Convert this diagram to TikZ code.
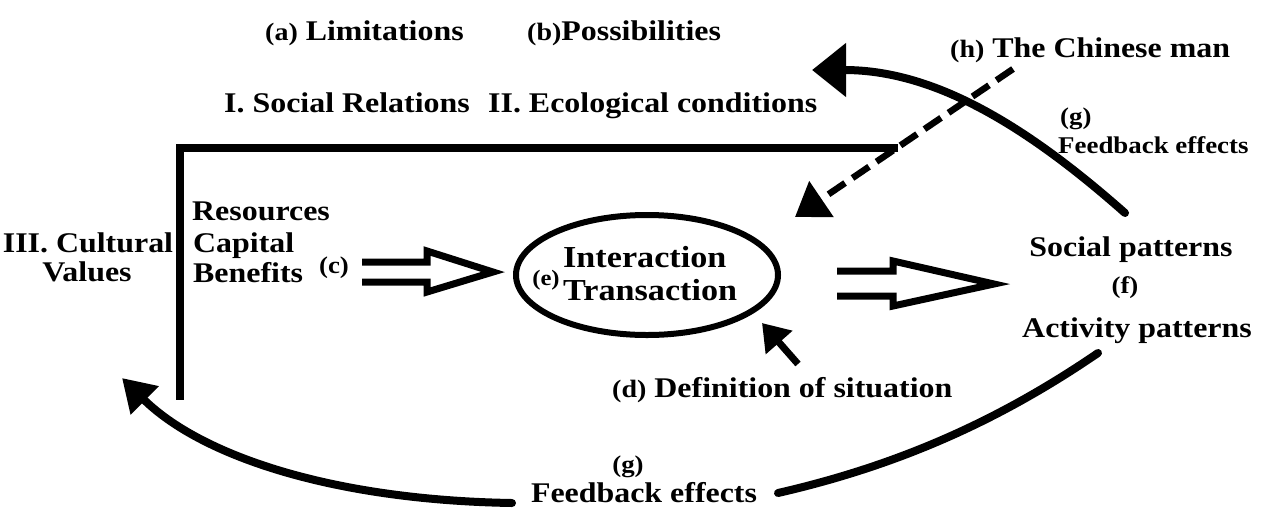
\documentclass[tikz,border=0pt]{standalone}
\usepackage{fontspec}
\setmainfont{Liberation Serif}[FakeStretch=1.12]
\usetikzlibrary{arrows.meta,shapes.geometric}
\newcommand\lb[1]{{\fontsize{25}{27}\selectfont #1}}
\tikzset{
  txt/.style={inner sep=0pt, font=\bfseries\fontsize{28.5}{30}\selectfont},
  bigtxt/.style={inner sep=0pt, font=\bfseries\fontsize{30.5}{32}\selectfont},
  smtxt/.style={inner sep=0pt, font=\bfseries\fontsize{24}{26}\selectfont},
  labtxt/.style={inner sep=0pt, font=\bfseries\fontsize{24}{26}\selectfont},
  tinylab/.style={inner sep=0pt, font=\bfseries\fontsize{22}{24}\selectfont},
  frameline/.style={line width=7.5pt, line join=miter},
  dblarrow/.style={line width=7pt, line join=miter},
  curve/.style={line width=8pt, line cap=round},
  bighead/.style={-{Triangle[length=34pt,width=52pt]}},
  midhead/.style={-{Triangle[length=32pt,width=42pt]}},
  dhead/.style={-{Triangle[length=26pt,width=34pt]}},
  dashline/.style={line width=6.5pt, dash pattern=on 20pt off 9pt}
}
\begin{document}
\begin{tikzpicture}[x=1pt,y=-1pt]
\useasboundingbox[fill=white] (0,0) rectangle (1266,507);

% texts
\node[txt,anchor=base west] (lim) at (265,40) {\lb{(a)} Limitations};
\node[txt,anchor=base west] (pos) at (527,40) {\lb{(b)}Possibilities};
\node[txt,anchor=base west] (chin) at (950,57) {\lb{(h)} The Chinese man};
\node[txt,anchor=base west] (soc) at (224,112) {I. Social Relations};
\node[txt,anchor=base west] (eco) at (488,112) {II. Ecological conditions};
\node[labtxt,anchor=base west] (g1) at (1060,124) {(g)};
\node[smtxt,anchor=base west] (fb1) at (1058,153) {Feedback effects};
\node[txt,anchor=base] (cult) at (88,252) {III. Cultural};
\node[txt,anchor=base] (val) at (87,281) {Values};
\node[txt,anchor=base west] (res) at (192,220) {Resources};
\node[txt,anchor=base west] (cap) at (193,252) {Capital};
\node[txt,anchor=base west] (ben) at (193,282) {Benefits};
\node[labtxt,anchor=base] (c) at (334,273) {(c)};
\node[draw,ellipse,line width=6pt,minimum width=262pt,minimum height=120pt,inner sep=0pt] (ell) at (647,275) {};
\node[tinylab,anchor=base] (e) at (546,285) {(e)};
\node[bigtxt,anchor=base west] (int) at (563,267) {Interaction};
\node[bigtxt,anchor=base west] (tra) at (563,300) {Transaction};
\node[txt,anchor=base] (socp) at (1131,256) {Social patterns};
\node[labtxt,anchor=base] (f) at (1125,293) {(f)};
\node[txt,anchor=base] (act) at (1137,337) {Activity patterns};
\node[txt,anchor=base west] (def) at (612,397) {\lb{(d)} Definition of situation};
\node[labtxt,anchor=base] (g2) at (628,472) {(g)};
\node[txt,anchor=base] (fb2) at (644,502) {Feedback effects};

% frame
\coordinate (fr1) at (898,148);
\coordinate (fr2) at (180,148);
\coordinate (fr3) at (180,400);
\draw[frameline] (fr1) -- (fr2) -- (fr3);

% double arrow (c)
\coordinate (c1) at (362,262);
\coordinate (c2) at (427,262);
\coordinate (c3) at (427,251);
\coordinate (c4) at (493,272);
\coordinate (c5) at (427,292);
\coordinate (c6) at (427,282);
\coordinate (c7) at (362,282);
\draw[dblarrow] (c1) -- (c2) -- (c3) -- (c4) -- (c5) -- (c6) -- (c7);

% double arrow (f)
\coordinate (f1) at (837,271);
\coordinate (f2) at (893,271);
\coordinate (f3) at (893,261);
\coordinate (f4) at (994,284);
\coordinate (f5) at (893,306);
\coordinate (f6) at (893,296);
\coordinate (f7) at (837,296);
\draw[dblarrow] (f1) -- (f2) -- (f3) -- (f4) -- (f5) -- (f6) -- (f7);

% arrow (d)
\coordinate (dtail) at (798,364);
\coordinate (dtip) at (762,323);
\draw[line width=7pt, dhead] (dtail) -- (dtip);

% dashed arrow (h)
\coordinate (hs) at (1013,69);
\coordinate (ht) at (795,217);
\draw[dashline, midhead] (hs) -- (ht);

% top feedback curve
\coordinate (ts) at (1125,213);
\coordinate (tt) at (812,70);
\draw[curve, bighead] (ts) .. controls (1020,120) and (930,70) .. (tt);

% bottom feedback curves
\coordinate (bs) at (1098,353);
\coordinate (bm) at (778,493);
\draw[curve] (bs) .. controls (1000,420) and (900,465) .. (bm);
\coordinate (ls) at (512,503);
\coordinate (lt) at (122,378);
\draw[curve, -{Triangle[length=32pt,width=38pt]}] (ls) .. controls (330,500) and (200,455) .. (lt);
\end{tikzpicture}
\end{document}
